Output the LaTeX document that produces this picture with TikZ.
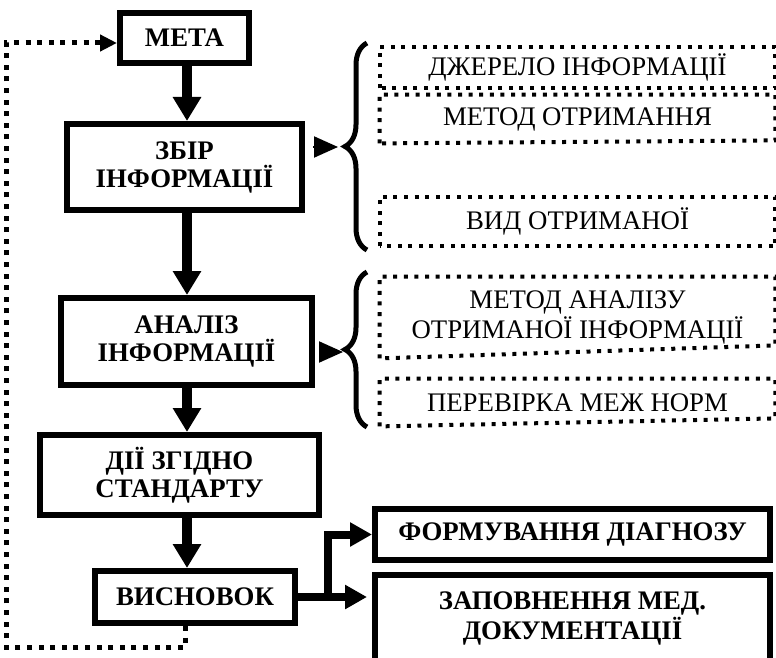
\documentclass[tikz,border=0pt]{standalone}
\usepackage{fontspec}
\setmainfont{Liberation Serif}
\usetikzlibrary{positioning}
\usetikzlibrary{calc}
\usetikzlibrary{arrows.meta}
\usetikzlibrary{decorations.pathreplacing}

\begin{document}
\begin{tikzpicture}
    [x=0.5pt, y=-0.5pt,
    stage/.style={draw, line width=3pt, inner sep=0pt, align=center, font=\fontsize{13.4}{14}\selectfont\bfseries},
    item/.style={inner sep=0pt, align=center, minimum width=197.5pt, font=\fontsize{13.4}{15}\selectfont},
    dots/.style={line width=2pt, dash pattern=on 2pt off 3.3pt},
    fback/.style={->, >={Triangle[length=8.5pt, width=8pt]}, line width=2.5pt, dash pattern=on 2.5pt off 3.3pt},
    flow/.style={->, >={Triangle[length=12pt, width=13.5pt]}, line width=5pt},
    branch/.style={->, >={Triangle[length=11pt, width=11.5pt]}, line width=4pt},
    side/.style={->, >={Triangle[length=12pt, width=10.5pt]}, line width=1pt},
    curly/.style={decorate, decoration={brace, amplitude=11pt}, line width=2.5pt}]
    \useasboundingbox (0,0) rectangle (776,658);
    \clip (0,0) rectangle (776,658);
    %\draw[step=50,gray,very thin] (0,0) grid (776,658);
    \node[stage, minimum width=64.5pt, minimum height=25pt]  (meta)   at (184.5, 38)   {МЕТА};
    \node[stage, minimum width=117.5pt, minimum height=43pt] (zbir)   at (184.5, 167)  {ЗБІР\\ІНФОРМАЦІЇ};
    \node[stage, minimum width=125.5pt, minimum height=43.5pt] (analiz) at (186.5, 341.5) {АНАЛІЗ\\ІНФОРМАЦІЇ};
    \node[stage, minimum width=139.5pt, minimum height=40pt] (dii)    at (179.5, 475)  {ДІЇ ЗГІДНО\\СТАНДАРТУ};
    \node[stage, minimum width=100pt, minimum height=26pt]   (visn)   at (195, 597)    {ВИСНОВОК};
    \node[stage, minimum width=197.5pt, minimum height=25.5pt] (diag) at (572.5, 534.5) {ФОРМУВАННЯ ДІАГНОЗУ};
    \node[stage, minimum width=197.5pt, minimum height=43.5pt] (docs) at (572.5, 618.5) {ЗАПОВНЕННЯ МЕД.\\ДОКУМЕНТАЦІЇ};
    % dotted boxes on the right
    \node[item, minimum height=20.5pt]   (src)   at (577.5, 67.5)  {ДЖЕРЕЛО ІНФОРМАЦІЇ};
    \node[item, minimum height=24pt]     (meth)  at (577.5, 119)   {МЕТОД ОТРИМАННЯ};
    \node[item, minimum height=24.5pt]   (kind)  at (577.5, 221.5) {ВИД ОТРИМАНОЇ};
    \node[item, minimum height=40.5pt]   (amet)  at (577.5, 317.5) {МЕТОД АНАЛІЗУ\\ОТРИМАНОЇ ІНФОРМАЦІЇ};
    \node[item, minimum height=23.5pt]   (norm)  at (577.5, 402.5) {ПЕРЕВІРКА МЕЖ НОРМ};
    \draw[dots] (src.south west) -- (src.north west) -- (src.north east) -- (src.south east) -- cycle;
    \draw[dots] (meth.south west) -- (meth.north west) -- (meth.north east) -- ([yshift=1.5pt]meth.south east) -- cycle;
    \draw[dots] (kind.south west) -- (kind.north west) -- (kind.north east) -- (kind.south east) -- cycle;
    \draw[dots] (amet.south west) -- (amet.north west) -- (amet.north east) -- ([yshift=6.5pt]amet.south east) -- cycle;
    \draw[dots] (norm.south west) -- (norm.north west) -- (norm.north east) -- ([yshift=4pt]norm.south east) -- cycle;
    % braces
    \coordinate (t1) at (338, 147);
    \coordinate (t2) at (343, 352);
    \draw[curly] (367, 250) -- (367, 43);
    \draw[curly] (367, 427) -- (367, 272);
    \draw[side] ([xshift=4pt]zbir.east |- t1) -- (t1);
    \draw[side] ([xshift=2.5pt]analiz.east |- t2) -- (t2);
    % main flow
    \coordinate (axis) at (187, 0);
    \draw[flow] (meta.south -| axis) -- (zbir.north -| axis);
    \draw[flow] (zbir.south -| axis) -- (analiz.north -| axis);
    \draw[flow] (analiz.south -| axis) -- (dii.north -| axis);
    \draw[flow] (dii.south -| axis) -- (visn.north -| axis);
    \coordinate (fork) at (328, 597);
    \draw[branch] (visn.east) -- (fork) |- (diag.west);
    \draw[branch] (fork) -- ([xshift=-2.5pt]docs.west |- fork);
    % back to the goal
    \coordinate (fb) at (6, 43);
    \draw[fback] ([xshift=-5pt]visn.south) -- ++(0, 21) -| (fb) -- (fb -| meta.west);
\end{tikzpicture}
\end{document}
